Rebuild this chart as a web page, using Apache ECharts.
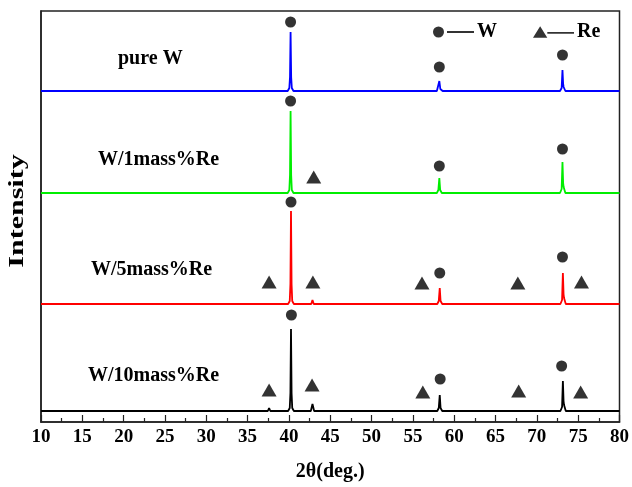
<!DOCTYPE html>
<html>
<head>
<meta charset="utf-8">
<script src="https://cdn.jsdelivr.net/npm/echarts@6/dist/echarts.min.js"></script>
<style>
  html, body { margin: 0; padding: 0; background: #fff; }
  #chart { width: 632px; height: 487px; }
</style>
</head>
<body>
<div id="chart"></div>
<script>
// XRD patterns of W and W-Re alloys (2θ in degrees, intensity in arbitrary units).
// Each trace is a list of [2θ, intensity] points; traces are stacked by a vertical offset.
const pureW = [
  [10, 0], [25, 0], [39.85, 0], [40.05, 3], [40.13, 14], [40.2, 59], [40.27, 14], [40.35, 3], [40.55, 0],
  [50, 0], [57.9, 0], [58.08, 2], [58.2, 10], [58.32, 2], [58.45, 0.3], [58.6, 0], [59, 0],
  [65, 0], [72.8, 0], [73.0, 3], [73.1, 21], [73.18, 7], [73.24, 4], [73.45, 0], [80, 0]
];
const w1Re = [
  [10, 0], [39.85, 0], [40.05, 3], [40.13, 18], [40.2, 82], [40.27, 18], [40.35, 3], [40.55, 0],
  [42.75, 0], [42.9, 1], [43.05, 0],
  [57.9, 0], [58.08, 3], [58.2, 15], [58.3, 3], [58.5, 0],
  [72.8, 0], [73.0, 4], [73.1, 31], [73.18, 10], [73.24, 6], [73.45, 0], [80, 0]
];
const w5Re = [
  [10, 0], [37.45, 0], [37.6, 1.5], [37.75, 0],
  [39.9, 0], [40.1, 3], [40.18, 20], [40.25, 93], [40.32, 20], [40.4, 3], [40.6, 0],
  [42.7, 0], [42.85, 4], [43.0, 0],
  [56.05, 0], [56.2, 1], [56.35, 0],
  [57.95, 0], [58.13, 3], [58.25, 16], [58.35, 3], [58.55, 0],
  [67.55, 0], [67.7, 1], [67.85, 0],
  [72.85, 0], [73.05, 4], [73.15, 31], [73.23, 10], [73.29, 6], [73.5, 0],
  [75.15, 0], [75.3, 1.5], [75.45, 0], [80, 0]
];
const w10Re = [
  [10, 0], [37.45, 0], [37.6, 3], [37.75, 0],
  [39.9, 0], [40.1, 3], [40.18, 18], [40.25, 82], [40.32, 18], [40.4, 3], [40.6, 0],
  [42.65, 0], [42.85, 7], [43.05, 0],
  [56.15, 0], [56.3, 2], [56.45, 0],
  [57.95, 0], [58.13, 3], [58.25, 16], [58.35, 3], [58.55, 0],
  [67.65, 0], [67.8, 2], [67.95, 0],
  [72.85, 0], [73.05, 4], [73.15, 30], [73.23, 10], [73.29, 6], [73.5, 0],
  [75.1, 0], [75.25, 2], [75.4, 0], [80, 0]
];

const sampleNames = ['pure W', 'W/1mass%Re', 'W/5mass%Re', 'W/10mass%Re'];
const traces = [pureW, w1Re, w5Re, w10Re];
const offsets = [331, 229, 118, 11];
const traceColors = ['#0000ff', '#00ee00', '#ff0000', '#000000'];

// Phase markers placed above the peaks (2θ, stacked intensity)
const wMarks = [
  [40.2, 400], [58.2, 355], [73.1, 367],
  [40.2, 321], [58.2, 256], [73.1, 273],
  [40.25, 220], [58.25, 149], [73.1, 165],
  [40.3, 107], [58.3, 43], [73.0, 56]
];
const reMarks = [
  [43.0, 245],
  [37.6, 140], [42.9, 140], [56.1, 139], [67.7, 139], [75.4, 140],
  [37.6, 32], [42.8, 37], [56.2, 30], [67.8, 31], [75.3, 30]
];

const xTicks = { min: 10, max: 80, interval: 5 };

const serif = "'Liberation Serif', 'Times New Roman', serif";
const chart = echarts.init(document.getElementById('chart'), null, { renderer: 'canvas' });

const lineSeries = traces.map((t, i) => ({
  name: sampleNames[i],
  type: 'line',
  data: t.map(p => [p[0], p[1] + offsets[i]]),
  showSymbol: false,
  symbol: 'none',
  smooth: false,
  lineStyle: { color: traceColors[i], width: 1.8 },
  itemStyle: { color: traceColors[i] },
  animation: false,
  z: 2
}));

const circleIcon = 'path://M0,6 A5.5,5.5 0 1,1 11,6 A5.5,5.5 0 1,1 0,6 Z M14,5.1 L41,5.1 L41,6.9 L14,6.9 Z';
const triIcon = 'path://M7.5,0 L15,12 L0,12 Z M15,6.1 L43,6.1 L43,7.9 L15,7.9 Z';

chart.setOption({
  animation: false,
  backgroundColor: '#fff',
  grid: {
    left: 41, right: 11, top: 11, bottom: 65,
    show: true, borderColor: '#222', borderWidth: 1.5, backgroundColor: 'transparent'
  },
  legend: {
    data: [
      { name: 'W', icon: circleIcon, itemWidth: 41, itemHeight: 12 },
      { name: 'Re', icon: triIcon, itemWidth: 43, itemHeight: 12 }
    ],
    left: 428, top: 17,
    itemGap: 36,
    itemWidth: 41, itemHeight: 12,
    textStyle: { fontFamily: serif, fontWeight: 'bold', fontSize: 20, color: '#000', padding: [0, 0, 0, -2] },
    selectedMode: false
  },
  xAxis: {
    type: 'value',
    min: xTicks.min, max: xTicks.max, interval: xTicks.interval,
    name: '2θ(deg.)',
    nameLocation: 'middle',
    nameGap: 40,
    nameTextStyle: { fontFamily: serif, fontWeight: 'bold', fontSize: 20, color: '#000' },
    axisLine: { show: true, lineStyle: { color: '#222', width: 1.5 } },
    axisTick: { show: true, inside: true, length: 7, lineStyle: { color: '#222', width: 1.2 } },
    minorTick: { show: true, splitNumber: 2, length: 4, lineStyle: { color: '#222', width: 1.2 } },
    axisLabel: { fontFamily: serif, fontWeight: 'bold', fontSize: 19, color: '#000', margin: 6 },
    splitLine: { show: false }
  },
  yAxis: {
    type: 'value',
    min: 0, max: 411,
    axisLine: { show: true, lineStyle: { color: '#222', width: 1.5 } },
    axisTick: { show: false },
    axisLabel: { show: false },
    splitLine: { show: false }
  },
  graphic: [
    {
      // vertical axis title, stretched along its length
      type: 'text', x: 18, y: 211, rotation: Math.PI / 2, scaleX: 1.5,
      style: { text: 'Intensity', font: 'bold 20px ' + serif, fill: '#000', align: 'center', verticalAlign: 'middle' }
    },
    { type: 'text', left: 118, top: 49, style: { text: sampleNames[0], font: 'bold 20px ' + serif, fill: '#000' } },
    { type: 'text', left: 98, top: 150, style: { text: sampleNames[1], font: 'bold 20px ' + serif, fill: '#000' } },
    { type: 'text', left: 91, top: 260, style: { text: sampleNames[2], font: 'bold 20px ' + serif, fill: '#000' } },
    { type: 'text', left: 88, top: 366, style: { text: sampleNames[3], font: 'bold 20px ' + serif, fill: '#000' } }
  ],
  series: lineSeries.concat([
    {
      name: 'W', type: 'scatter', data: wMarks,
      symbol: 'circle', symbolSize: 11,
      itemStyle: { color: '#000' }, z: 3
    },
    {
      name: 'Re', type: 'scatter', data: reMarks,
      symbol: 'triangle', symbolSize: [15, 13],
      itemStyle: { color: '#000' }, z: 3
    }
  ])
});
</script>
</body>
</html>
